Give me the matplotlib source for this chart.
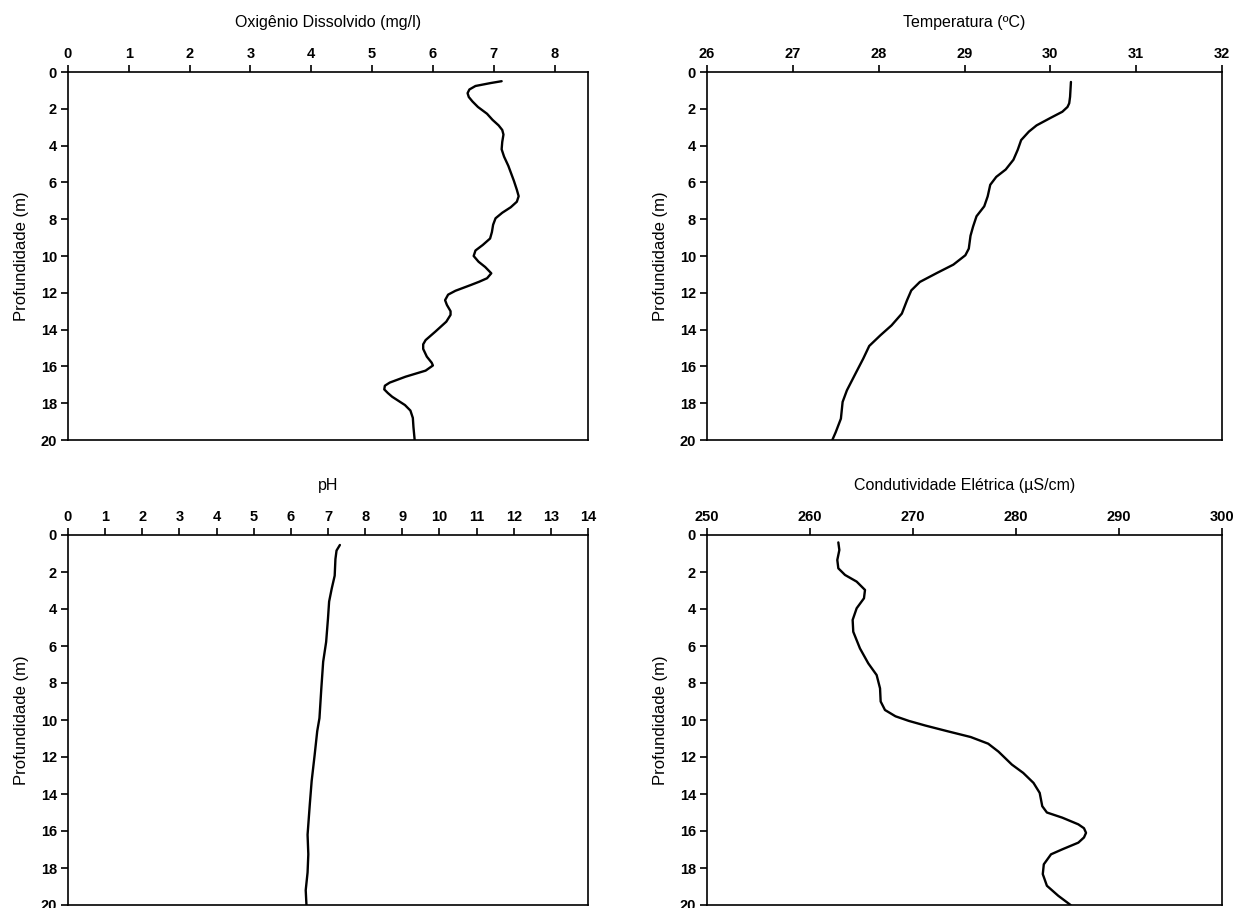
import matplotlib
matplotlib.use('Agg')
import matplotlib.pyplot as plt

plt.rcParams['font.family'] = ['Liberation Sans', 'DejaVu Sans']

# perfis verticais: valor medido e profundidade (m)
od_val = [7.13, 6.95, 6.70, 6.60, 6.57, 6.59, 6.65, 6.74, 6.89, 6.98, 7.08, 7.14, 7.16, 7.14,
          7.13, 7.17, 7.24, 7.33, 7.38, 7.41, 7.38, 7.28, 7.14, 7.03, 6.99, 6.97, 6.94, 6.82,
          6.70, 6.67, 6.75, 6.86, 6.96, 6.89, 6.76, 6.62, 6.37, 6.25, 6.20, 6.23, 6.29, 6.29,
          6.22, 6.04, 5.88, 5.84, 5.84, 5.90, 5.98, 6.00, 5.88, 5.55, 5.29, 5.21, 5.20, 5.26,
          5.33, 5.54, 5.63, 5.67, 5.68, 5.70]
od_prof = [0.5, 0.6, 0.76, 0.95, 1.15, 1.36, 1.6, 1.9, 2.27, 2.6, 2.9, 3.15, 3.4, 3.8,
           4.2, 4.6, 5.1, 5.9, 6.4, 6.75, 7.05, 7.35, 7.65, 7.95, 8.3, 8.7, 9.05, 9.4,
           9.7, 10.0, 10.31, 10.6, 10.94, 11.21, 11.4, 11.58, 11.89, 12.1, 12.4, 12.66, 13.0, 13.2,
           13.57, 14.11, 14.57, 14.8, 15.05, 15.47, 15.8, 15.95, 16.23, 16.56, 16.88, 17.05, 17.25, 17.45,
           17.65, 18.1, 18.4, 18.8, 19.3, 20.0]

temp_val = [30.24, 30.23, 30.22, 30.20, 30.14, 30.0, 29.84, 29.75, 29.66, 29.62, 29.57, 29.48,
            29.37, 29.30, 29.27, 29.23, 29.14, 29.10, 29.07, 29.05, 29.01, 28.87, 28.68, 28.48,
            28.38, 28.33, 28.27, 28.15, 28.02, 27.89, 27.82, 27.74, 27.63, 27.58, 27.56, 27.50,
            27.46]
temp_prof = [0.54, 1.35, 1.7, 1.9, 2.16, 2.5, 2.9, 3.24, 3.7, 4.23, 4.77, 5.3,
             5.7, 6.13, 6.76, 7.3, 7.84, 8.4, 8.9, 9.6, 9.96, 10.47, 10.92, 11.41,
             11.87, 12.41, 13.13, 13.77, 14.31, 14.89, 15.58, 16.3, 17.3, 17.93, 18.84, 19.57,
             20.0]

ph_val = [7.32, 7.23, 7.20, 7.18, 7.10, 7.03, 7.00, 6.95, 6.87, 6.82, 6.77, 6.71, 6.64,
          6.56, 6.51, 6.45, 6.47, 6.45, 6.40, 6.42]
ph_prof = [0.54, 0.84, 1.3, 2.2, 2.9, 3.6, 4.5, 5.78, 6.85, 8.3, 9.9, 10.6, 11.9,
           13.3, 14.56, 16.2, 17.26, 18.24, 19.2, 20.0]

cond_val = [262.75, 262.85, 262.65, 262.75, 263.4, 264.53, 265.34, 265.24, 264.53, 264.14, 264.2,
            264.85, 265.66, 266.47, 266.8, 266.86, 267.28, 268.3, 269.6, 271.2, 273.3, 275.6,
            277.3, 278.3, 279.6, 280.7, 281.7, 282.3, 282.55, 283.0, 284.5, 286.05, 286.6,
            286.8, 286.6, 286.05, 284.5, 283.4, 282.7, 282.6, 283.0, 284.1, 285.3]
cond_prof = [0.4, 0.81, 1.35, 1.8, 2.16, 2.52, 2.97, 3.42, 3.96, 4.59, 5.23,
             6.13, 6.94, 7.57, 8.29, 9.0, 9.46, 9.8, 10.05, 10.3, 10.6, 10.92,
             11.28, 11.71, 12.41, 12.86, 13.4, 13.94, 14.66, 15.0, 15.28, 15.64, 15.85,
             16.1, 16.35, 16.63, 16.99, 17.26, 17.8, 18.33, 18.96, 19.5, 20.0]

titulos = ['Oxigênio Dissolvido (mg/l)', 'Temperatura (ºC)', 'pH', 'Condutividade Elétrica (µS/cm)']
xlims = [(0, 8.55), (26, 32), (0, 14), (250, 300)]
xticks = [range(0, 9), range(26, 33), range(0, 15), range(250, 301, 10)]

fig = plt.figure(figsize=(12.34, 9.08), dpi=100)
W, H = 1234, 908
boxes = [(68, 72, 588, 440), (707, 72, 1222, 440), (68, 535, 588, 905), (707, 535, 1222, 905)]
dados = [(od_val, od_prof), (temp_val, temp_prof), (ph_val, ph_prof), (cond_val, cond_prof)]

for (x0, y0, x1, y1), (v, p), tit, xl, xt in zip(boxes, dados, titulos, xlims, xticks):
    ax = fig.add_axes([x0 / W, 1 - y1 / H, (x1 - x0) / W, (y1 - y0) / H])
    ax.plot(v, p, color='black', linewidth=1.7, solid_joinstyle='round', solid_capstyle='round')
    ax.set_xlim(*xl)
    ax.set_ylim(20, 0)
    ax.set_xticks(list(xt))
    ax.set_yticks(range(0, 21, 2))
    ax.xaxis.tick_top()
    ax.xaxis.set_label_position('top')
    ax.set_xlabel(tit, fontsize=11.5, labelpad=14)
    ax.set_ylabel('Profundidade (m)', fontsize=12, labelpad=8)
    ax.tick_params(axis='both', direction='out', length=5, width=1.2, labelsize=10.5, pad=3)
    ax.tick_params(top=True, bottom=False, left=True, right=False)
    for lab in ax.get_xticklabels() + ax.get_yticklabels():
        lab.set_fontweight('bold')
    for s in ax.spines.values():
        s.set_linewidth(1.2)

plt.savefig('out.png', dpi=100, facecolor='white')
